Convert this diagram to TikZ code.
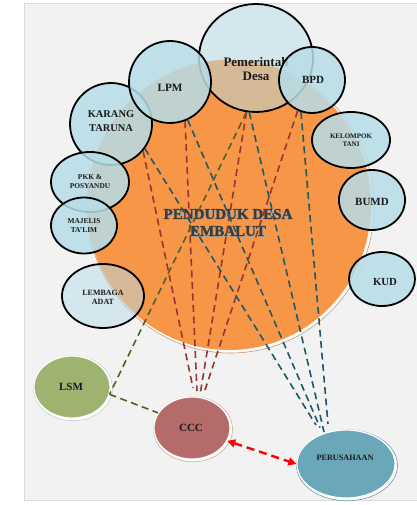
\documentclass[tikz,border=0pt]{standalone}
\usepackage{fontspec}
\setmainfont{Liberation Serif}
\newfontfamily\heavyfont{Liberation Serif}[BoldFeatures={FakeBold=1.5}]
\usetikzlibrary{shapes.geometric,arrows.meta}

\definecolor{panelgray}{HTML}{F2F2F2}
\definecolor{panelline}{HTML}{DADADA}
\definecolor{orangefill}{HTML}{F79646}
\definecolor{orangerim}{HTML}{C49A74}
\definecolor{bubblue}{HTML}{B7DDE8}
\definecolor{linkred}{HTML}{963634}
\definecolor{linkteal}{HTML}{1F5968}
\definecolor{linkgreen}{HTML}{4F6228}
\definecolor{lsmgreen}{HTML}{9FB370}
\definecolor{cccred}{HTML}{B46B6A}
\definecolor{pertealfill}{HTML}{6AA7B8}
\definecolor{labeltext}{HTML}{1A1A1A}
\definecolor{titletext}{HTML}{3C3C3C}

\tikzset{
  bubble/.style={ellipse, draw=black, line width=1.8pt, fill=bubblue,
    fill opacity=0.85, draw opacity=1, inner sep=0pt},
  thinbubble/.style={bubble, fill opacity=0.5},
  lbl/.style n args={2}{font=\bfseries\fontsize{#1}{#2}\selectfont,
    text=labeltext, align=center, inner sep=0pt},
  titlelbl/.style={font=\heavyfont\bfseries\fontsize{15}{17}\selectfont,
    align=center, inner sep=0pt},
  rimshadow/.style={ellipse, fill=white, line width=0.6pt, inner sep=0pt},
  solidbubble/.style={ellipse, draw=white, line width=1.2pt, inner sep=0pt},
  redlink/.style={draw=linkred, line width=1.6pt, dash pattern=on 7pt off 4.5pt},
  teallink/.style={draw=linkteal, line width=1.6pt, dash pattern=on 7pt off 4.5pt},
  greenlink/.style={draw=linkgreen, line width=1.6pt, dash pattern=on 7pt off 4.5pt},
  arrowlink/.style={draw=red, line width=2.4pt, dash pattern=on 8pt off 5pt,
    {Triangle[length=8pt,width=8pt]}-{Triangle[length=8pt,width=8pt]}},
}

\begin{document}
\begin{tikzpicture}[x=1pt,y=-1pt]
\useasboundingbox (0,0) rectangle (416,505);
\fill[white] (0,0) rectangle (416,505);
% background panel
\draw[fill=panelgray, draw=panelline, line width=0.8pt] (24,3) rectangle (420,500);

% central population circle with offset rim
\node[rimshadow, draw=orangerim, minimum width=287pt, minimum height=293pt] (pendrim) at (230.5,206.5) {};
\node[ellipse, fill=orangefill, inner sep=0pt, minimum width=284pt, minimum height=290pt] (pend) at (229,205) {};
\node[titlelbl, text=gray!70] (pendshadow) at (228.9,223.4) {PENDUDUK DESA\\EMBALUT};
\node[titlelbl, text=titletext] (pendtext) at (228,222.5) {PENDUDUK DESA\\EMBALUT};

% village institutions
\node[thinbubble, minimum width=114pt, minimum height=108pt] (pd) at (256,58) {};
\node[lbl={13}{14}] (pdt) at (256,69) {Pemerintah\\Desa};
\node[bubble, minimum width=82pt, minimum height=82pt] (kt) at (111,124) {};
\node[lbl={10.4}{14}] (ktt) at (111,121) {KARANG\\TARUNA};
\node[bubble, minimum width=82pt, minimum height=82pt] (lpm) at (170,82) {};
\node[lbl={11.2}{12}] (lpmt) at (170,88) {LPM};
\node[bubble, minimum width=66pt, minimum height=66pt] (bpd) at (312,80) {};
\node[lbl={11}{12}] (bpdt) at (313,80) {BPD};
\node[bubble, minimum width=78pt, minimum height=56pt] (tani) at (351,140) {};
\node[lbl={7}{8.5}] (tanit) at (351,140) {KELOMPOK\\TANI};
\node[bubble, minimum width=66pt, minimum height=60pt] (bumd) at (372,200) {};
\node[lbl={11}{12}] (bumdt) at (372,202) {BUMD};
\node[bubble, minimum width=66pt, minimum height=54pt] (kud) at (382,279) {};
\node[lbl={10.8}{12}] (kudt) at (385,282) {KUD};
\node[bubble, minimum width=78pt, minimum height=60pt] (pkk) at (90,182) {};
\node[lbl={7.4}{9}] (pkkt) at (90,181.5) {PKK \&\\POSYANDU};
\node[bubble, minimum width=66pt, minimum height=56pt] (maj) at (84,225.5) {};
\node[lbl={7.4}{9}] (majt) at (84,225.5) {MAJELIS\\TA’LIM};
\node[thinbubble, minimum width=82pt, minimum height=64pt] (lemb) at (103,296) {};
\node[lbl={8}{9}] (lembt) at (103,297.5) {LEMBAGA\\ADAT};

% outside actors
\node[rimshadow, draw=gray!40, minimum width=79pt, minimum height=65pt] (lsmrim) at (73,388.3) {};
\node[solidbubble, fill=lsmgreen, minimum width=76pt, minimum height=62pt] (lsm) at (72,387) {};
\node[lbl={11}{12}] (lsmt) at (71,387) {LSM};
\node[rimshadow, draw=orangerim!80, minimum width=79pt, minimum height=65pt] (cccrim) at (193,429.3) {};
\node[solidbubble, fill=cccred, minimum width=76pt, minimum height=62pt] (ccc) at (192,428) {};
\node[lbl={11}{12}] (ccct) at (191,428) {CCC};
\node[rimshadow, draw=pertealfill!60!gray, minimum width=101pt, minimum height=71pt] (perrim) at (347,465.3) {};
\node[solidbubble, fill=pertealfill, minimum width=98pt, minimum height=68pt] (per) at (346,464) {};
\node[lbl={8.2}{9}] (pert) at (345,458) {PERUSAHAAN};

% end points near CCC and PERUSAHAAN
\coordinate (cccA) at (193,388);
\coordinate (cccB) at (197,391);
\coordinate (cccC) at (200.5,392);
\coordinate (cccD) at (205,390);
\coordinate (perA) at (316,425);
\coordinate (perB) at (320,427.5);
\coordinate (perC) at (324,432);
\coordinate (perD) at (328,424);

% links towards CCC
\draw[redlink] (kt.-40) -- (cccA);
\draw[redlink] (lpm.-69) -- (cccB);
\draw[redlink] (pd.-100) -- (cccC);
\draw[redlink] (bpd.-115) -- (cccD);
% links towards PERUSAHAAN
\draw[teallink] (kt.-36) -- (perA);
\draw[teallink] (lpm.-65) -- (perB);
\draw[teallink] (pd.-97) -- (perC);
\draw[teallink] (bpd.-109) -- (perD);
% LSM links
\draw[greenlink] (pd.-100) -- (lsm.-11);
\draw[greenlink] (lsm.-11) -- (ccc.156);
% CCC and PERUSAHAAN
\draw[arrowlink] (ccc.-20) -- (per.west);
\end{tikzpicture}
\end{document}
